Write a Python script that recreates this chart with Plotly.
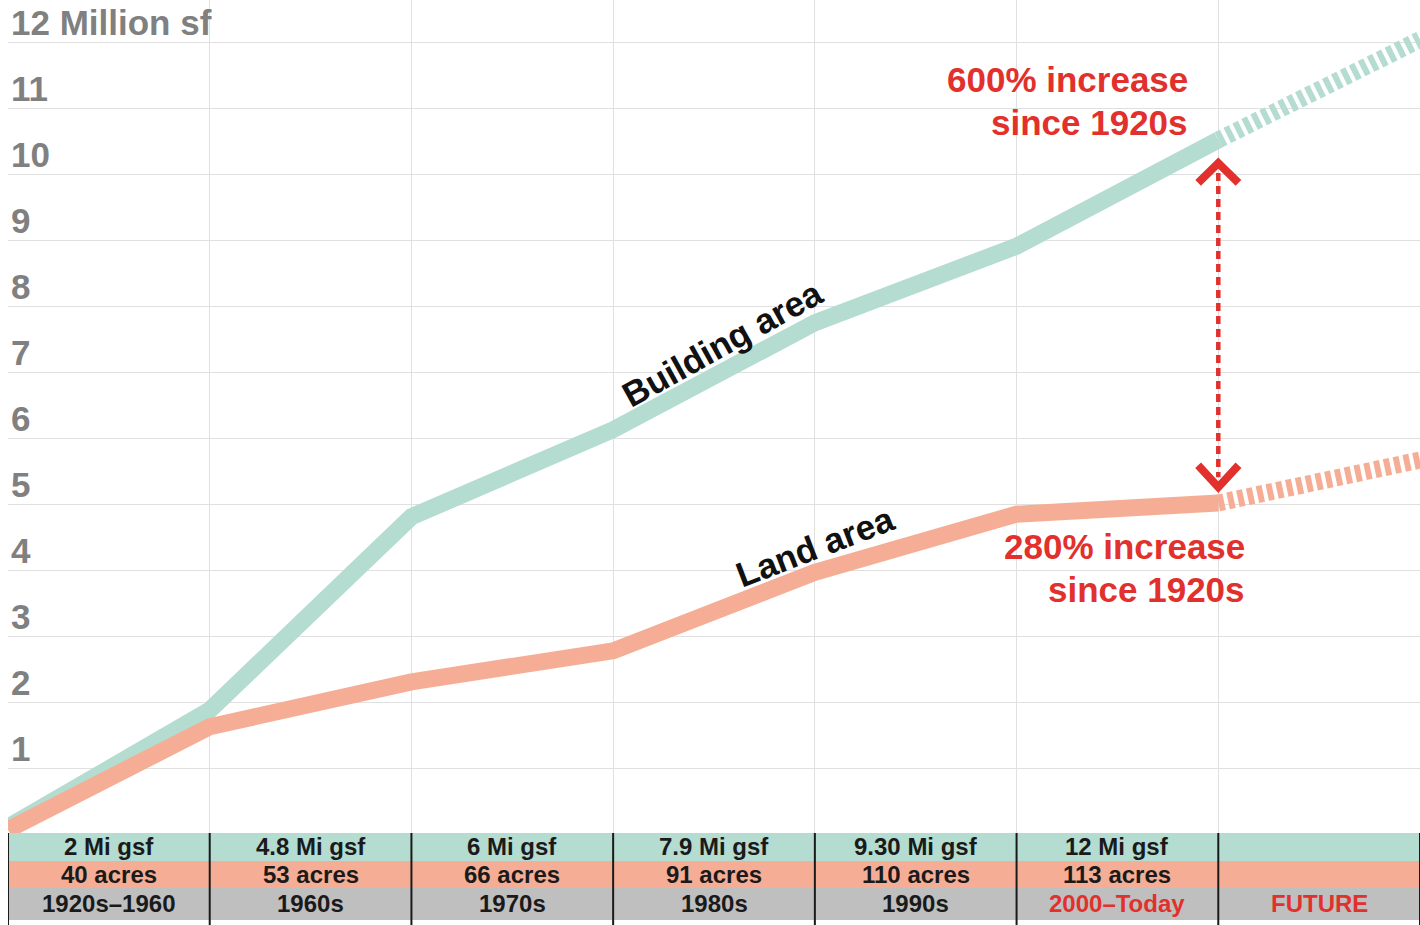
import plotly.graph_objects as go

# Period boundaries on the x axis (0 = start of 1920s, 7 = far right / future)
boundaries = [0, 1, 2, 3, 4, 5, 6, 7]

# Million sf at each period boundary
building_area = [0.12, 1.89, 4.82, 6.14, 7.76, 8.92, 10.53]
land_area = [0.08, 1.64, 2.32, 2.79, 3.98, 4.86, 5.03]
# Projected end points for the future column
building_future = 12.05
land_future = 5.68

# Table rows under the chart
gsf_labels = ["2 Mi gsf", "4.8 Mi gsf", "6 Mi gsf", "7.9 Mi gsf", "9.30 Mi gsf", "12 Mi gsf", ""]
acre_labels = ["40 acres", "53 acres", "66 acres", "91 acres", "110 acres", "113 acres", ""]
period_labels = ["1920s\u20131960", "1960s", "1970s", "1980s", "1990s", "2000\u2013Today", "FUTURE"]
period_colors = ["#1a1a1a"] * 5 + ["#e2302c", "#e2302c"]

y_ticks = list(range(1, 13))

FONT = "Liberation Sans, Arial, sans-serif"
MINT = "#b4dcd1"
SALMON = "#f5ae95"
GREY_ROW = "#bfbfbf"
RED = "#e2302c"
AXIS_GREY = "#808080"

fig = go.Figure()

n = len(building_area)
fig.add_trace(go.Scatter(x=boundaries[:n], y=building_area, mode="lines",
                         line=dict(color=MINT, width=17), hoverinfo="skip"))
fig.add_trace(go.Scatter(x=[boundaries[n - 1], boundaries[n]],
                         y=[building_area[-1], building_future], mode="lines",
                         line=dict(color=MINT, width=17, dash="6px,4px"), hoverinfo="skip"))
fig.add_trace(go.Scatter(x=boundaries[:n], y=land_area, mode="lines",
                         line=dict(color=SALMON, width=17), hoverinfo="skip"))
fig.add_trace(go.Scatter(x=[boundaries[n - 1], boundaries[n]],
                         y=[land_area[-1], land_future], mode="lines",
                         line=dict(color=SALMON, width=17, dash="6px,4px"), hoverinfo="skip"))

# Double-headed dashed arrow between the two curves at today
ax = boundaries[n - 1]
top_apex = building_area[-1] - 0.35
bot_apex = land_area[-1] + 0.24
fig.add_trace(go.Scatter(x=[ax, ax], y=[top_apex - 0.15, bot_apex + 0.15], mode="lines",
                         line=dict(color=RED, width=4.5, dash="8px,5px"), hoverinfo="skip"))
fig.add_trace(go.Scatter(x=[ax - 0.1, ax, ax + 0.1], y=[top_apex - 0.3, top_apex, top_apex - 0.3],
                         mode="lines", line=dict(color=RED, width=8), hoverinfo="skip"))
fig.add_trace(go.Scatter(x=[ax - 0.1, ax, ax + 0.1], y=[bot_apex + 0.33, bot_apex, bot_apex + 0.33],
                         mode="lines", line=dict(color=RED, width=8), hoverinfo="skip"))

# Table beneath the plot
row_edges = [0.03, -0.394, -0.803, -1.288]
row_fills = [MINT, SALMON, GREY_ROW]
shapes = []
for i, fill in enumerate(row_fills):
    shapes.append(dict(type="rect", xref="x", yref="y", x0=boundaries[0], x1=boundaries[-1],
                       y0=row_edges[i + 1], y1=row_edges[i], fillcolor=fill,
                       line=dict(width=0), layer="above"))
shapes.append(dict(type="rect", xref="x", yref="y", x0=boundaries[0], x1=boundaries[-1],
                   y0=-1.5, y1=row_edges[-1], fillcolor="white", line=dict(width=0), layer="above"))
for b in boundaries:
    shapes.append(dict(type="line", xref="x", yref="y", x0=b, x1=b, y0=row_edges[0], y1=-1.5,
                       line=dict(color="#1a1a1a", width=2), layer="above"))

annotations = []
row_centers = [(row_edges[i] + row_edges[i + 1]) / 2 for i in range(3)]
for i in range(7):
    cx = boundaries[i] + 0.5
    for row, txt, col in ((0, gsf_labels[i], "#1a1a1a"), (1, acre_labels[i], "#1a1a1a"),
                          (2, period_labels[i], period_colors[i])):
        if txt:
            annotations.append(dict(x=cx, y=row_centers[row], xref="x", yref="y", text=f"<b>{txt}</b>",
                                    showarrow=False, font=dict(family=FONT, size=24, color=col),
                                    xanchor="center", yanchor="middle"))

# Y axis labels sitting just above each grid line
for v in y_ticks:
    label = "12 Million sf" if v == 12 else str(v)
    annotations.append(dict(x=boundaries[0], y=v, xref="x", yref="y", text=f"<b>{label}</b>",
                            showarrow=False, font=dict(family=FONT, size=35, color=AXIS_GREY),
                            xanchor="left", yanchor="bottom", xshift=1, yshift=-1))

# Curve labels
annotations.append(dict(x=3.54, y=7.45, xref="x", yref="y", text="<b>Building area</b>",
                        showarrow=False, textangle=-29, font=dict(family=FONT, size=35, color="#111111")))
annotations.append(dict(x=4.0, y=4.37, xref="x", yref="y", text="<b>Land area</b>",
                        showarrow=False, textangle=-21, font=dict(family=FONT, size=35, color="#111111")))

# Growth callouts, one annotation per line for tighter leading
callouts = [
    (5.86, 11.44, "600% increase"), (5.86, 10.80, "since 1920s"),
    (6.14, 4.37, "280% increase"), (6.14, 3.72, "since 1920s"),
]
for cx, cy, txt in callouts:
    annotations.append(dict(x=cx, y=cy, xref="x", yref="y", text=f"<b>{txt}</b>",
                            showarrow=False, xanchor="right", yanchor="middle",
                            font=dict(family=FONT, size=35, color=RED)))

fig.update_layout(
    width=1420, height=925,
    margin=dict(l=8, r=0, t=0, b=0),
    paper_bgcolor="white", plot_bgcolor="white",
    showlegend=False,
    shapes=shapes, annotations=annotations,
    xaxis=dict(range=[boundaries[0], boundaries[-1]], tickvals=boundaries, showticklabels=False,
               showgrid=True, gridcolor="#e0e0e0", gridwidth=1, zeroline=False, showline=False,
               fixedrange=True),
    yaxis=dict(range=[-1.364, 12.65], tickvals=[0] + y_ticks, showticklabels=False,
               showgrid=True, gridcolor="#e0e0e0", gridwidth=1, zeroline=False, showline=False,
               fixedrange=True),
)

fig.write_html("out.html", config={"displayModeBar": False})
